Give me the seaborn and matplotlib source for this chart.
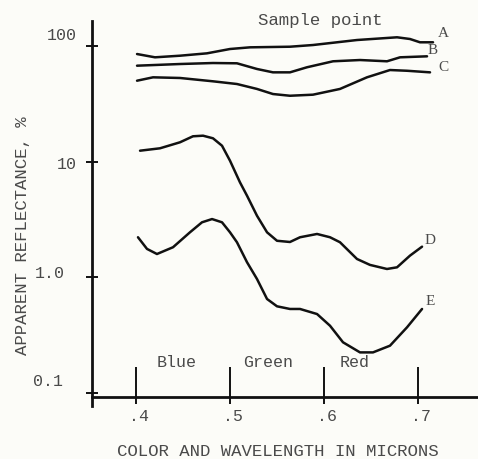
import matplotlib
matplotlib.use("Agg")
import matplotlib.pyplot as plt
import matplotlib.transforms as mtransforms
from matplotlib.ticker import FixedLocator, NullLocator
import seaborn as sns

sns.set_theme(style="white")
plt.rcParams["font.family"] = ["Liberation Mono", "DejaVu Sans Mono"]

# ==================================================
# DATA
# ==================================================

a_wl = [0.4011, 0.4202, 0.4468, 0.4755, 0.5000, 0.5213, 0.5638, 0.5883,
        0.6351, 0.6777, 0.6915, 0.7021, 0.7160]
a_refl = [85.4, 80.0, 82.6, 86.6, 94.4, 97.6, 98.8, 102.2,
          112.9, 119.2, 115.2, 107.9, 107.9]

b_wl = [0.4011, 0.4468, 0.4819, 0.5074, 0.5287, 0.5457, 0.5638, 0.5819,
        0.6096, 0.6383, 0.6670, 0.6809, 0.7096]
b_refl = [67.7, 70.0, 71.4, 71.0, 63.4, 59.3, 59.3, 65.6,
          73.9, 75.8, 73.9, 80.0, 81.6]

c_wl = [0.4011, 0.4181, 0.4468, 0.4819, 0.5074, 0.5287, 0.5457, 0.5638,
        0.5883, 0.6170, 0.6457, 0.6702, 0.6883, 0.7128]
c_refl = [50.2, 53.7, 53.0, 49.6, 47.0, 42.6, 38.5, 37.2,
          38.0, 42.6, 53.7, 62.1, 61.2, 59.3]

d_wl = [0.4043, 0.4255, 0.4468, 0.4606, 0.4713, 0.4819, 0.4915, 0.5000,
        0.5106, 0.5181, 0.5287, 0.5394, 0.5500, 0.5638, 0.5745, 0.5926,
        0.6064, 0.6170, 0.6351, 0.6489, 0.6670, 0.6777, 0.6915, 0.7043]
d_refl = [12.45, 13.06, 14.72, 16.59, 16.79, 15.94, 13.75, 10.20,
          6.63, 5.08, 3.41, 2.45, 2.07, 2.02, 2.22, 2.37,
          2.22, 2.01, 1.44, 1.28, 1.18, 1.22, 1.54, 1.84]

e_wl = [0.4021, 0.4117, 0.4223, 0.4394, 0.4574, 0.4702, 0.4809, 0.4915,
        0.5000, 0.5074, 0.5181, 0.5287, 0.5394, 0.5500, 0.5638, 0.5745,
        0.5926, 0.6064, 0.6202, 0.6383, 0.6521, 0.6702, 0.6883, 0.7043]
e_refl = [2.22, 1.76, 1.59, 1.82, 2.45, 2.99, 3.19, 2.99,
          2.45, 2.01, 1.35, 0.967, 0.649, 0.561, 0.532, 0.532,
          0.481, 0.381, 0.274, 0.224, 0.224, 0.256, 0.369, 0.532]

curve_names = ["A", "B", "C", "D", "E"]
curve_wl = [a_wl, b_wl, c_wl, d_wl, e_wl]
curve_refl = [a_refl, b_refl, c_refl, d_refl, e_refl]
name_wl = [0.7266, 0.7160, 0.7266, 0.7128, 0.7128]
name_refl = [132.4, 94.4, 66.4, 2.14, 0.624]

band_names = ["Blue", "Green", "Red"]
band_wl = [0.4436, 0.5404, 0.6330]
band_refl = 0.185

x_ticks = [0.4, 0.5, 0.6, 0.7]
x_tick_labels = [".4", ".5", ".6", ".7"]
y_ticks = [0.1, 1, 10, 100]
y_tick_labels = ["0.1", "1.0", "10", "100"]

title_text = "Sample point"
x_title = "COLOR AND WAVELENGTH IN MICRONS"
y_title = "APPARENT REFLECTANCE, %"

# ==================================================
# STYLE
# ==================================================

bg = "#fcfcf8"
ink = "#111111"
txt = "#4a4a4a"

fig = plt.figure(figsize=(4.78, 4.6), dpi=100, facecolor=bg)
ax = fig.add_axes([92 / 478, 1 - 407 / 460, 386 / 478, 385 / 460])
ax.set_facecolor(bg)

for wl, refl in zip(curve_wl, curve_refl):
    sns.lineplot(x=wl, y=refl, ax=ax, color=ink, linewidth=1.8,
                 solid_joinstyle="round", solid_capstyle="round")

ax.set_yscale("log")
ax.set_xlim(0.35319, 0.76383)
ax.set_ylim(0.0770, 164.9)

ax.spines["top"].set_visible(False)
ax.spines["right"].set_visible(False)
ax.spines["left"].set_linewidth(2.0)
ax.spines["left"].set_color(ink)
ax.spines["bottom"].set_linewidth(2.0)
ax.spines["bottom"].set_color(ink)
ax.spines["bottom"].set_position(("data", 0.0921))

# y ticks
ax.yaxis.set_major_locator(FixedLocator(y_ticks))
ax.yaxis.set_minor_locator(NullLocator())
ax.set_yticklabels(y_tick_labels)
ax.tick_params(axis="y", which="major", direction="inout", length=8.6,
               width=1.4, color=ink, labelsize=12, labelcolor=txt, pad=6.5,
               left=True)

y_shift = [(-14, 14), (-12, 6), (0, 0), (0, 13)]
for lab, (dx, dy) in zip(ax.get_yticklabels(), y_shift):
    lab.set_transform(lab.get_transform() + mtransforms.ScaledTranslation(
        dx / 100, dy / 100, fig.dpi_scale_trans))

# x ticks
ax.xaxis.remove_overlapping_locs = False
ax.xaxis.set_major_locator(FixedLocator(x_ticks))
ax.xaxis.set_minor_locator(FixedLocator(x_ticks))
ax.set_xticklabels(x_tick_labels)
ax.tick_params(axis="x", which="major", direction="in", length=21.6,
               width=1.4, color=ink, labelsize=12, labelcolor=txt, pad=8,
               bottom=True)
ax.tick_params(axis="x", which="minor", direction="out", length=5,
               width=1.4, color=ink, bottom=True, labelbottom=False)
for lab in ax.get_xticklabels():
    lab.set_transform(lab.get_transform() + mtransforms.ScaledTranslation(
        3 / 100, 0, fig.dpi_scale_trans))

ax.grid(False)

# axis titles
ax.set_xlabel(x_title, fontsize=12.5, color=txt)
ax.xaxis.set_label_coords(0.482, -0.095)
ax.set_ylabel(y_title, fontsize=12.5, color=txt)
ax.yaxis.set_label_coords(-0.16, 0.444)

# curve names
for name, wl, refl in zip(curve_names, name_wl, name_refl):
    ax.text(wl, refl, name, fontsize=11, color=txt, ha="center",
            va="center", family="Liberation Serif", clip_on=False)

# colour bands
for name, wl in zip(band_names, band_wl):
    ax.text(wl, band_refl, name, fontsize=12, color=txt, ha="center",
            va="center")

ax.text(0.5957, 171.6, title_text, fontsize=12.5, color=txt, ha="center",
        va="center", clip_on=False)

fig.savefig("out.png", dpi=100, facecolor=bg)
plt.close(fig)
